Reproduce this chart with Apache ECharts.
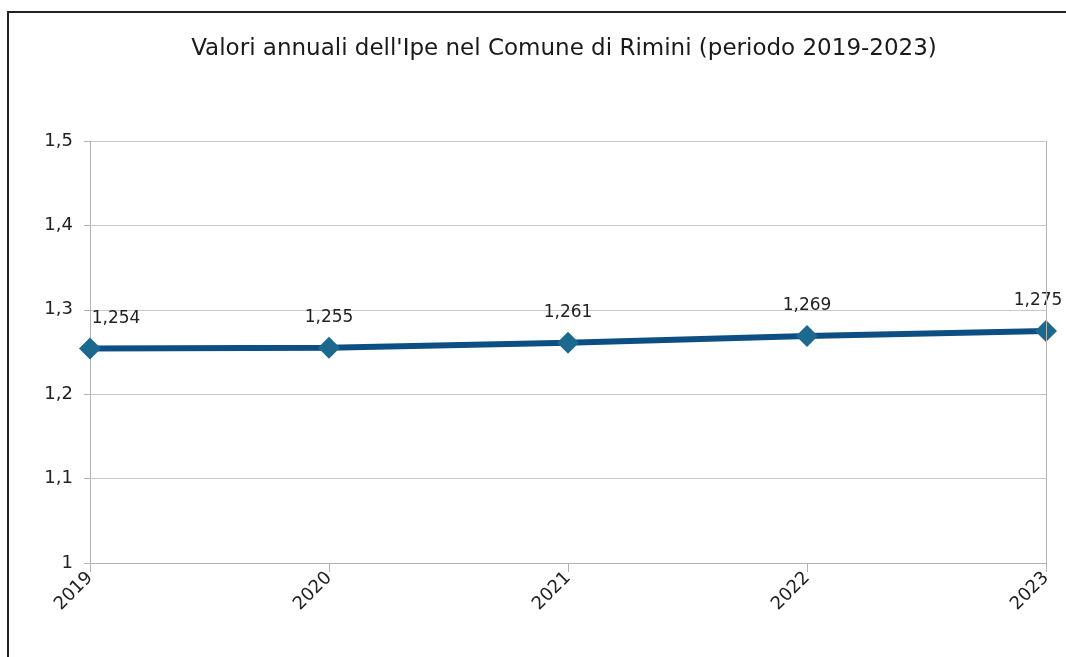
<!DOCTYPE html>
<html>
<head>
<meta charset="utf-8">
<script src="https://cdn.jsdelivr.net/npm/echarts@6/dist/echarts.min.js"></script>
<style>
  html, body { margin: 0; padding: 0; background: #fff; }
  #chart { width: 1066px; height: 657px; }
</style>
</head>
<body>
<div id="chart"></div>
<script>
// Annual IPE values, Comune di Rimini
const years = ['2019', '2020', '2021', '2022', '2023'];
const ipeValues = [1.254, 1.255, 1.261, 1.269, 1.275];
// Horizontal nudges for the value labels at the two ends of the line
const labelShiftX = [26, 0, 0, 0, -8];

const fmt = v => String(v).replace('.', ',');

const chart = echarts.init(document.getElementById('chart'), null, { renderer: 'canvas' });

const textFont = 'DejaVu Sans, Verdana, sans-serif';

chart.setOption({
  backgroundColor: '#ffffff',
  animation: false,
  title: {
    text: "Valori annuali dell'Ipe nel Comune di Rimini (periodo 2019-2023)",
    left: 559,
    textAlign: 'center',
    top: 33,
    textStyle: { fontFamily: textFont, fontSize: 23, fontWeight: 'normal', color: '#1a1a1a' }
  },
  graphic: [{
    type: 'polyline',
    shape: { points: [[8, 657], [8, 12], [1066, 12]] },
    style: { stroke: '#222', lineWidth: 2, fill: null }
  }],
  grid: { left: 90, right: 20, top: 141, bottom: 94, containLabel: false },
  xAxis: {
    type: 'category',
    data: years,
    boundaryGap: false,
    axisLine: { lineStyle: { color: '#b3b3b3', width: 1 } },
    axisTick: { show: true, length: 9, alignWithLabel: true, lineStyle: { color: '#b3b3b3' } },
    axisLabel: {
      rotate: 45, margin: 12, fontFamily: textFont, fontSize: 18, color: '#222'
    },
    splitLine: { show: false }
  },
  yAxis: {
    type: 'value',
    min: 1, max: 1.5, interval: 0.1,
    axisLine: { show: true, lineStyle: { color: '#b3b3b3' } },
    axisTick: { show: true, length: 6, lineStyle: { color: '#b3b3b3' } },
    axisLabel: {
      margin: 17, fontFamily: textFont, fontSize: 18, color: '#222',
      formatter: v => fmt(Math.round(v * 10) / 10)
    },
    splitLine: { show: true, lineStyle: { color: '#c8c8c8', width: 1 } }
  },
  series: [
    {
      type: 'line',
      data: ipeValues.map((v, i) => ({
        value: v,
        label: { offset: [labelShiftX[i], 0] }
      })),
      symbol: 'diamond',
      symbolSize: 22,
      showAllSymbol: true,
      lineStyle: { color: '#0d4f82', width: 6 },
      itemStyle: { color: '#1b6a8e', borderWidth: 0 },
      label: {
        show: true,
        position: 'top',
        distance: 11,
        fontFamily: textFont,
        fontSize: 17,
        color: '#222',
        formatter: p => fmt(p.value)
      },
      z: 3
    },
    {
      // right frame line of the plot area
      type: 'line',
      data: [],
      markLine: {
        silent: true,
        symbol: 'none',
        label: { show: false },
        lineStyle: { color: '#b3b3b3', type: 'solid', width: 1 },
        data: [[{ coord: ['2023', 1.5] }, { coord: ['2023', 1] }]]
      }
    }
  ]
});
</script>
</body>
</html>
